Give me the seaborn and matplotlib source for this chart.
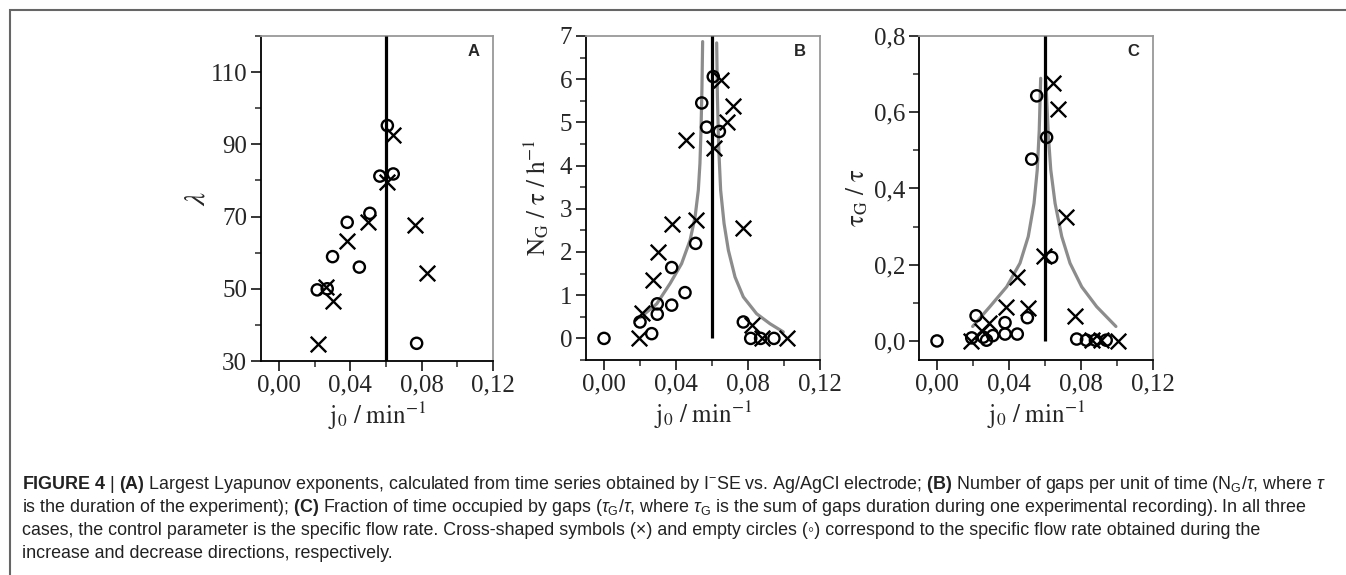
import numpy as np
import pandas as pd
import matplotlib
matplotlib.use("Agg")
import matplotlib.pyplot as plt
import seaborn as sns
from matplotlib.patches import Rectangle
from matplotlib.ticker import MultipleLocator

sns.set_style("ticks")
plt.rcParams["font.family"] = ["Liberation Serif", "DejaVu Serif"]
plt.rcParams["mathtext.fontset"] = "stix"
# caption math uses the custom set (sans)
plt.rcParams["mathtext.rm"] = "Liberation Sans"
plt.rcParams["mathtext.it"] = "Liberation Sans:italic"
plt.rcParams["mathtext.bf"] = "Liberation Sans:bold"

## ---------------- data ----------------
j_crit = 0.06

# panel A: largest Lyapunov exponent
a_circ_x = [0.0215, 0.0271, 0.0301, 0.0383, 0.0451, 0.0510, 0.0566, 0.0608, 0.0641, 0.0772]
a_circ_y = [49.7, 50.0, 58.9, 68.4, 56.0, 70.9, 81.2, 95.2, 81.8, 34.9]
a_cross_x = [0.0220, 0.0267, 0.0305, 0.0383, 0.0501, 0.0608, 0.0641, 0.0763, 0.0828]
a_cross_y = [34.7, 50.6, 46.6, 63.2, 68.6, 79.7, 92.6, 67.7, 54.5]

# panel B: N_G / tau
b_circ_x = [0.000, 0.020, 0.0265, 0.0296, 0.0296, 0.0376, 0.0376, 0.045, 0.0509,
            0.0543, 0.0570, 0.0607, 0.0641, 0.0774, 0.0815, 0.0870, 0.0944]
b_circ_y = [0.00, 0.38, 0.11, 0.80, 0.56, 1.64, 0.77, 1.06, 2.20,
            5.45, 4.89, 6.06, 4.79, 0.38, 0.00, 0.00, 0.00]
b_cross_x = [0.0196, 0.0209, 0.0270, 0.0302, 0.0376, 0.0456, 0.0509, 0.0611,
             0.0648, 0.0681, 0.0719, 0.0770, 0.0820, 0.0876, 0.1015]
b_cross_y = [0.00, 0.59, 1.36, 2.00, 2.65, 4.59, 2.74, 4.40,
             5.99, 5.00, 5.38, 2.56, 0.32, 0.00, 0.00]
b_fit_lx = [0.0200, 0.0293, 0.0367, 0.0431, 0.0478, 0.0506, 0.0524, 0.0533, 0.0539, 0.0544, 0.0548]
b_fit_ly = [0.48, 0.80, 1.27, 1.73, 2.27, 2.81, 3.43, 4.05, 4.83, 5.75, 6.87]
b_fit_rx = [0.0626, 0.0630, 0.0637, 0.0648, 0.0667, 0.0691, 0.0728, 0.0774, 0.0848, 0.0922, 0.0996]
b_fit_ry = [6.84, 5.60, 4.44, 3.43, 2.66, 2.04, 1.42, 0.96, 0.57, 0.34, 0.15]

# panel C: tau_G / tau
c_circ_x = [0.000, 0.0193, 0.0217, 0.0257, 0.0275, 0.031, 0.0378, 0.0378, 0.0446,
            0.0502, 0.0526, 0.0554, 0.0609, 0.0637, 0.0776, 0.083, 0.088, 0.094]
c_circ_y = [0.000, 0.008, 0.066, 0.010, 0.002, 0.014, 0.048, 0.018, 0.018,
            0.061, 0.477, 0.643, 0.534, 0.219, 0.005, 0.002, 0.002, 0.002]
c_cross_x = [0.0187, 0.0248, 0.0291, 0.0383, 0.0446, 0.0507, 0.0594, 0.0643,
             0.0674, 0.0717, 0.0767, 0.086, 0.091, 0.1008]
c_cross_y = [0.000, 0.025, 0.048, 0.088, 0.169, 0.086, 0.223, 0.676,
             0.609, 0.326, 0.066, 0.002, 0.002, 0.000]
c_fit_lx = [0.0198, 0.0294, 0.0387, 0.0461, 0.0507, 0.0539, 0.0557, 0.0568, 0.0576]
c_fit_ly = [0.038, 0.090, 0.142, 0.204, 0.274, 0.361, 0.449, 0.553, 0.689]
c_fit_rx = [0.0605, 0.0619, 0.0632, 0.0656, 0.0693, 0.0739, 0.0804, 0.0887, 0.0994]
c_fit_ry = [0.680, 0.536, 0.449, 0.361, 0.274, 0.204, 0.142, 0.090, 0.038]

# ticks / labels
x_ticks = [0.00, 0.04, 0.08, 0.12]
x_ticklabels = ["0,00", "0,04", "0,08", "0,12"]
a_yticks = [30, 50, 70, 90, 110]
a_yticklabels = ["30", "50", "70", "90", "110"]
b_yticks = [0, 1, 2, 3, 4, 5, 6, 7]
b_yticklabels = ["0", "1", "2", "3", "4", "5", "6", "7"]
c_yticks = [0.0, 0.2, 0.4, 0.6, 0.8]
c_yticklabels = ["0,0", "0,2", "0,4", "0,6", "0,8"]

caption_lines = [
    r"$\mathbf{FIGURE\ 4}$ | $\mathbf{(A)}$ Largest Lyapunov exponents, calculated from time series obtained by "
    r"$\mathregular{I^{-}}$SE vs. Ag/AgCl electrode; $\mathbf{(B)}$ Number of gaps per unit of time "
    r"($\mathregular{N_G}/\tau$, where $\tau$",
    r"is the duration of the experiment); $\mathbf{(C)}$ Fraction of time occupied by gaps "
    r"($\tau_\mathregular{G}/\tau$, where $\tau_\mathregular{G}$ is the sum of gaps duration during one "
    r"experimental recording). In all three",
    "cases, the control parameter is the specific flow rate. Cross-shaped symbols (\u00d7) and empty "
    "circles (\u25e6) correspond to the specific flow rate obtained during the",
    "increase and decrease directions, respectively.",
]

## ---------------- figure ----------------
W, H = 1346, 575
fig = plt.figure(figsize=(W / 100, H / 100), dpi=100)
fig.patch.set_facecolor("white")

# outer frame of the figure panel
fig.patches.append(Rectangle((10 / W, -0.1), 1.2, 1.1 - 10 / H, transform=fig.transFigure,
                             fill=False, edgecolor="#666666", linewidth=1.5))

panels = [
    dict(pos=[261, 36, 493, 361], circ=(a_circ_x, a_circ_y), cross=(a_cross_x, a_cross_y),
         fits=[], ylim=(30, 120), yt=a_yticks, ytl=a_yticklabels, ymin_minor=10,
         vline=(30, 120), ylabel=r"$\lambda$", letter="A", labelpad=0, ylsize=21),
    dict(pos=[586, 36, 820, 360], circ=(b_circ_x, b_circ_y), cross=(b_cross_x, b_cross_y),
         fits=[(b_fit_lx, b_fit_ly), (b_fit_rx, b_fit_ry)], ylim=(-0.5, 7), yt=b_yticks,
         ytl=b_yticklabels, ymin_minor=0.5, vline=(0, 7),
         ylabel=r"$\mathrm{N_G\ /\ \tau\ /\ h^{-1}}$", letter="B", labelpad=6, ylsize=18),
    dict(pos=[919, 36, 1153, 360], circ=(c_circ_x, c_circ_y), cross=(c_cross_x, c_cross_y),
         fits=[(c_fit_lx, c_fit_ly), (c_fit_rx, c_fit_ry)], ylim=(-0.05, 0.8), yt=c_yticks,
         ytl=c_yticklabels, ymin_minor=0.1, vline=(0, 0.8),
         ylabel=r"$\mathrm{\tau_G\ /\ \tau}$", letter="C", labelpad=3, ylsize=18),
]

for p in panels:
    l, t, r, b = p["pos"]
    ax = fig.add_axes([l / W, 1 - b / H, (r - l) / W, (b - t) / H])

    for fx, fy in p["fits"]:
        sns.lineplot(x=fx, y=fy, ax=ax, color="#8c8c8c", linewidth=2.3, sort=False,
                     estimator=None, zorder=2)
    ax.vlines(j_crit, p["vline"][0], p["vline"][1], color="black", linewidth=2.3, zorder=3)

    sns.scatterplot(x=p["circ"][0], y=p["circ"][1], ax=ax, marker="o", s=65,
                    facecolors="none", edgecolor="black", linewidth=1.7, zorder=4)
    sns.scatterplot(x=p["cross"][0], y=p["cross"][1], ax=ax, marker="x", s=125,
                    color="black", linewidth=1.7, zorder=4)

    ax.set_xlim(-0.01, 0.12)
    ax.set_ylim(*p["ylim"])
    ax.set_xticks(x_ticks)
    ax.set_xticklabels(x_ticklabels)
    ax.set_yticks(p["yt"])
    ax.set_yticklabels(p["ytl"])
    ax.xaxis.set_minor_locator(MultipleLocator(0.02))
    ax.yaxis.set_minor_locator(MultipleLocator(p["ymin_minor"]))
    ax.tick_params(which="major", direction="out", length=7, width=1.3, labelsize=18, pad=3)
    ax.tick_params(which="minor", direction="out", length=4, width=1.1)
    for side in ["left", "bottom"]:
        ax.spines[side].set_color("black")
        ax.spines[side].set_linewidth(1.3)
    for side in ["top", "right"]:
        ax.spines[side].set_color("#999999")
        ax.spines[side].set_linewidth(1.3)

    ax.set_xlabel(r"$\mathrm{j_0\ /\ min^{-1}}$", fontsize=18, labelpad=2)
    ax.set_ylabel(p["ylabel"], fontsize=p["ylsize"], labelpad=p["labelpad"])
    ax.text(0.94, 0.975, p["letter"], transform=ax.transAxes, ha="right", va="top",
            fontsize=12, fontweight="bold", family=["Liberation Sans", "DejaVu Sans"])

# caption
for i, line in enumerate(caption_lines):
    fig.text(22 / W, 1 - (489 + 23 * i) / H, line, ha="left", va="baseline", fontsize=12.9,
             color="#222222", family=["Liberation Sans", "DejaVu Sans"], math_fontfamily="custom")

fig.savefig("out.png", dpi=100)
